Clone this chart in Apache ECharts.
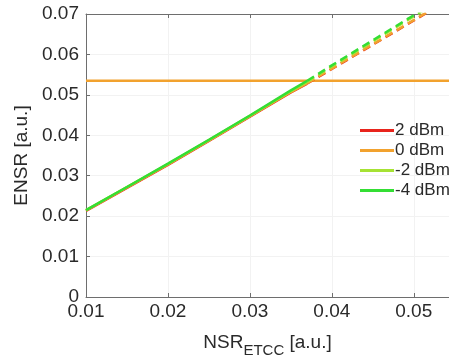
<!DOCTYPE html>
<html>
<head>
<meta charset="utf-8">
<script src="https://cdn.jsdelivr.net/npm/echarts@6/dist/echarts.min.js"></script>
<style>
  html, body { margin: 0; padding: 0; background: #fff; }
  #chart { width: 449px; height: 357px; }
</style>
</head>
<body>
<div id="chart"></div>
<script>
// NSR values for the solid (measured) part and the dashed (extrapolated) part
const nsrSolid = [0.01, 0.015, 0.02, 0.025, 0.03, 0.035, 0.037];
const nsrDash = [0.037, 0.04, 0.045, 0.05, 0.055];

const powers = ['2 dBm', '0 dBm', '-2 dBm', '-4 dBm'];
const colors = ['#e8241c', '#f2a22e', '#a6e234', '#34de34'];

// ENSR
const ensrSolid = [
  [0.0213, 0.0270, 0.0327, 0.0386, 0.0446, 0.0506, 0.0528],
  [0.0214, 0.0271, 0.0328, 0.0387, 0.0447, 0.0507, 0.0529],
  [0.0215, 0.0272, 0.0329, 0.0388, 0.0448, 0.0509, 0.0532],
  [0.0215, 0.0272, 0.0330, 0.0389, 0.0449, 0.0511, 0.0535]
];
const ensrDash = [
  [0.0528, 0.0564, 0.0624, 0.0684, 0.0744],
  [0.0529, 0.0565, 0.0625, 0.0685, 0.0745],
  [0.0532, 0.0570, 0.0632, 0.0694, 0.0756],
  [0.0535, 0.0573, 0.0635, 0.0697, 0.0759]
];

// horizontal reference level
const refLevel = 0.0535;
const xRange = [0.01, 0.0543];

const chart = echarts.init(document.getElementById('chart'));

const series = [];
series.push({
  name: 'ref',
  type: 'line',
  data: xRange.map(x => [x, refLevel]),
  showSymbol: false,
  lineStyle: { color: colors[1], width: 2.5 },
  z: 1
});
powers.forEach((p, i) => {
  series.push({
    name: p,
    type: 'line',
    data: nsrSolid.map((x, j) => [x, ensrSolid[i][j]]),
    showSymbol: false,
    lineStyle: { color: colors[i], width: 2.5 },
    itemStyle: { color: colors[i] },
    z: 2 + i
  });
  series.push({
    name: p,
    type: 'line',
    data: nsrDash.map((x, j) => [x, ensrDash[i][j]]),
    showSymbol: false,
    lineStyle: { color: colors[i], width: 2.5, type: [8, 5] },
    itemStyle: { color: colors[i] },
    z: 2 + i
  });
});

const textColor = '#2a2a2a';
const axisColor = '#6e6e6e';
const font = 'Liberation Sans';

chart.setOption({
  animation: false,
  grid: { left: 86, top: 14, right: 0, bottom: 60, outerBoundsMode: 'none' },
  legend: {
    data: powers,
    orient: 'vertical',
    left: 355,
    top: 117,
    icon: 'rect',
    itemWidth: 34,
    itemHeight: 3,
    itemGap: 3,
    textStyle: { fontSize: 17, color: textColor, fontFamily: font, padding: [0, 0, 0, -4] }
  },
  xAxis: [{
    type: 'value',
    min: xRange[0],
    max: xRange[1],
    interval: 0.01,
    name: '{a|NSR}{b|ETCC}{a| [a.u.]}',
    nameLocation: 'middle',
    nameGap: 30,
    nameTextStyle: {
      rich: {
        a: { fontSize: 19, color: textColor, fontFamily: font },
        b: { fontSize: 15, color: textColor, fontFamily: font, padding: [16, 0, 0, 0] }
      }
    },
    axisLine: { lineStyle: { color: axisColor, width: 1 } },
    axisTick: { inside: true, length: 4, lineStyle: { color: axisColor } },
    axisLabel: { fontSize: 19, color: textColor, fontFamily: font, margin: 5, showMaxLabel: false },
    splitLine: { show: true, lineStyle: { color: '#f2f2f2', width: 1 } }
  }, {
    type: 'value',
    position: 'top',
    min: xRange[0],
    max: xRange[1],
    interval: 0.01,
    axisLine: { show: true, lineStyle: { color: axisColor, width: 1 } },
    axisTick: { inside: true, length: 4, lineStyle: { color: axisColor } },
    axisLabel: { show: false },
    splitLine: { show: false }
  }],
  yAxis: {
    type: 'value',
    min: 0,
    max: 0.07,
    interval: 0.01,
    name: 'ENSR [a.u.]',
    nameLocation: 'middle',
    nameGap: 48,
    nameTextStyle: { fontSize: 19, color: textColor, fontFamily: font },
    axisLine: { show: true, lineStyle: { color: axisColor, width: 1 } },
    axisTick: { show: true, inside: true, length: 4, lineStyle: { color: axisColor } },
    axisLabel: { fontSize: 19, color: textColor, fontFamily: font, margin: 7,
      formatter: v => v === 0 ? '0' : v.toFixed(2) },
    splitLine: { show: true, lineStyle: { color: '#f2f2f2', width: 1 } }
  },
  series: series
});
</script>
</body>
</html>
